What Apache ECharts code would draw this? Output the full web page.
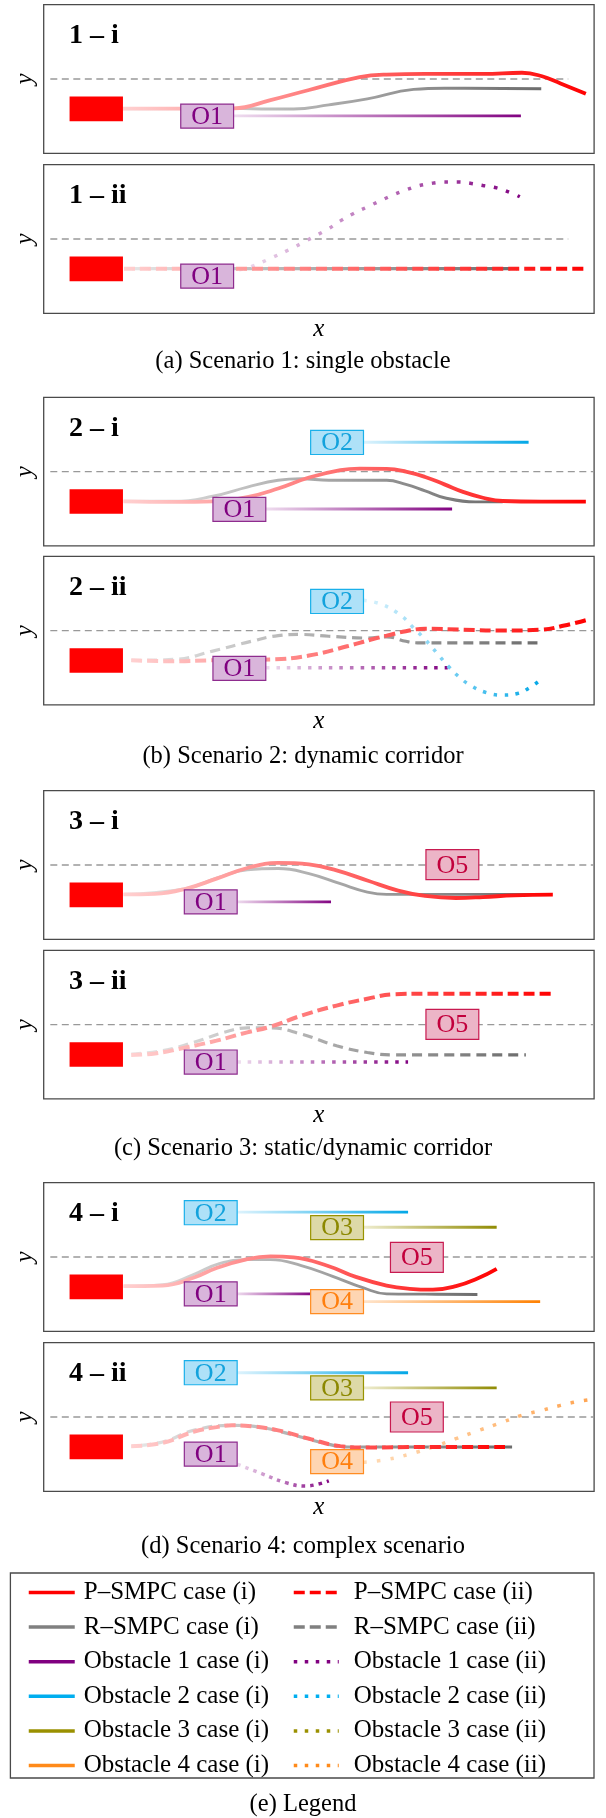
<!DOCTYPE html>
<html><head><meta charset="utf-8">
<script src="https://cdn.jsdelivr.net/npm/echarts@6/dist/echarts.min.js"></script>
<style>html,body{margin:0;padding:0;background:#fff}#c{width:606px;height:1818px}</style>
</head><body><div id="c"></div>
<script>
// ---------------- DATA ----------------
const panelLabels = ['1 – i','1 – ii','2 – i','2 – ii','3 – i','3 – ii','4 – i','4 – ii'];
const captions = ['(a) Scenario 1: single obstacle','(b) Scenario 2: dynamic corridor','(c) Scenario 3: static/dynamic corridor','(d) Scenario 4: complex scenario','(e) Legend'];
const legendCol1 = ['P–SMPC case (i)','R–SMPC case (i)','Obstacle 1 case (i)','Obstacle 2 case (i)','Obstacle 3 case (i)','Obstacle 4 case (i)'];
const legendCol2 = ['P–SMPC case (ii)','R–SMPC case (ii)','Obstacle 1 case (ii)','Obstacle 2 case (ii)','Obstacle 3 case (ii)','Obstacle 4 case (ii)'];

const egoVehicle = [4.7, 14.4, -1.42, -0.59]; // x0, x1, y0, y1
const laneS1 = [[1.2,0],[95.3,0]];
const laneS234 = [[1.2,0],[100,0]];

// Scenario 1
const s1i_psmpc = [[14.4,-1],[24.9,-1],[34.5,-0.99],[41.2,-0.71],[48.2,-0.37],[57.4,0.06],[62.3,0.15],[69.3,0.17],[79.8,0.17],[86.9,0.21],[90.4,0.10],[93.9,-0.15],[98.5,-0.50]];
const s1i_rsmpc = [[14.4,-1],[34.5,-0.99],[41.2,-1.01],[45.4,-1.01],[51.8,-0.87],[58.8,-0.67],[67.2,-0.35],[72.8,-0.31],[90.4,-0.33]];
const s1i_obs1 = [[34.5,-1.24],[86.7,-1.24]];
const s1i_boxes = [['O1',29.7,-1.25]];
const s1ii_psmpc = [[14.6,-1],[98.5,-1]];
const s1ii_rsmpc = [[14.6,-1],[86.0,-1]];
const s1ii_obs1 = [[35.5,-1.04],[37.7,-0.93],[40.5,-0.71],[44.7,-0.35],[46.8,-0.15],[49.3,0.10],[51.8,0.35],[53.9,0.61],[56.3,0.86],[58.8,1.08],[61.2,1.29],[63.7,1.50],[65.8,1.65],[68.3,1.80],[70.7,1.88],[72.8,1.92],[75.3,1.92],[77.7,1.87],[79.8,1.80],[82.3,1.72],[84.8,1.56],[86.5,1.42]];
const s1ii_boxes = [['O1',29.7,-1.25]];

// Scenario 2
const s2i_psmpc = [[14.5,-1.0],[23.7,-1.02],[30.7,-1.0],[37.0,-0.86],[42.6,-0.57],[48.2,-0.20],[53.9,0.05],[57.4,0.10],[62.3,0.09],[65.8,0.0],[69.3,-0.18],[72.8,-0.43],[76.3,-0.69],[79.8,-0.88],[83.4,-0.99],[90.4,-1.01],[98.5,-1.01]];
const s2i_rsmpc = [[14.5,-1.0],[23.7,-1.0],[30.7,-0.83],[37.0,-0.52],[42.6,-0.29],[46.8,-0.24],[51.8,-0.29],[58.8,-0.29],[62.3,-0.29],[65.8,-0.43],[69.3,-0.65],[72.8,-0.88],[78.4,-1.02],[83.4,-1.02]];
const s2i_obs1 = [[40.4,-1.26],[74.2,-1.26]];
const s2i_obs2 = [[58.1,0.99],[88.1,0.99]];
const s2i_boxes = [['O1',35.55,-1.27],['O2',53.3,0.98]];
const s2ii_psmpc = [[15.9,-1.0],[23.7,-1.03],[30.7,-1.0],[41.2,-0.97],[48.2,-0.84],[55.3,-0.52],[59.5,-0.30],[62.3,-0.17],[65.8,-0.02],[69.3,0.06],[76.3,0.03],[83.4,0.0],[90.4,0.03],[94.6,0.17],[98.5,0.35]];
const s2ii_rsmpc = [[15.9,-1.0],[23.7,-0.97],[30.7,-0.69],[37.7,-0.36],[42.6,-0.17],[46.8,-0.13],[51.8,-0.19],[58.8,-0.25],[62.3,-0.21],[65.8,-0.36],[67.9,-0.41],[76.3,-0.41],[90.4,-0.41]];
const s2ii_obs1 = [[40.4,-1.25],[73.4,-1.25]];
const s2ii_obs2 = [[58.1,1.02],[61.6,0.87],[65.1,0.48],[67.2,0.09],[69.3,-0.30],[71.4,-0.75],[73.5,-1.20],[75.6,-1.58],[77.7,-1.86],[80.5,-2.09],[83.4,-2.17],[86.2,-2.11],[88.3,-1.92],[90.4,-1.64]];
const s2ii_boxes = [['O1',35.55,-1.27],['O2',53.3,0.98]];

// Scenario 3
const s3i_psmpc = [[14.5,-0.99],[20.2,-0.97],[25.8,-0.80],[31.4,-0.46],[37.0,-0.10],[42.6,0.07],[48.2,0.02],[53.2,-0.18],[58.8,-0.52],[64.4,-0.86],[69.3,-1.04],[74.9,-1.11],[79.8,-1.08],[85.5,-1.02],[92.5,-1.0]];
const s3i_rsmpc = [[14.5,-0.99],[25.8,-0.80],[31.4,-0.44],[37.0,-0.16],[42.6,-0.12],[48.2,-0.29],[53.9,-0.63],[58.8,-0.91],[62.3,-0.99],[69.3,-0.99],[79.8,-0.99],[89.0,-0.99]];
const s3i_obs1 = [[35.2,-1.24],[52.2,-1.24]];
const s3i_boxes = [['O1',30.35,-1.24],['O5',74.25,0.01]];
const s3ii_psmpc = [[15.9,-1.02],[20.2,-0.97],[25.8,-0.77],[31.4,-0.54],[37.0,-0.26],[41.2,-0.07],[46.8,0.30],[53.2,0.64],[58.8,0.87],[63.7,1.02],[69.3,1.04],[92.5,1.04]];
const s3ii_rsmpc = [[15.9,-0.99],[21.6,-0.88],[27.2,-0.60],[32.8,-0.26],[37.0,-0.11],[41.2,-0.11],[46.8,-0.32],[53.2,-0.71],[58.8,-0.94],[63.7,-1.02],[87.6,-1.02]];
const s3ii_obs1 = [[35.2,-1.26],[66.2,-1.26]];
const s3ii_boxes = [['O1',30.35,-1.26],['O5',74.25,0.01]];

// Scenario 4
const s4i_psmpc = [[14.5,-0.98],[21.6,-0.96],[27.2,-0.70],[31.4,-0.37],[37.0,-0.07],[41.2,0.02],[45.4,-0.01],[51.8,-0.31],[56.7,-0.67],[62.3,-0.96],[66.5,-1.07],[70.7,-1.10],[74.9,-0.98],[79.1,-0.70],[82.3,-0.40]];
const s4i_rsmpc = [[14.5,-0.98],[21.6,-0.93],[27.2,-0.59],[31.9,-0.22],[37.0,-0.09],[41.2,-0.09],[46.8,-0.29],[52.5,-0.65],[58.1,-1.04],[62.3,-1.24],[69.3,-1.25],[78.8,-1.26]];
const s4i_obs1 = [[35.2,-1.24],[48.5,-1.24]];
const s4i_obs2 = [[35.2,1.51],[66.2,1.51]];
const s4i_obs3 = [[58.1,1.0],[82.3,1.0]];
const s4i_obs4 = [[58.1,-1.50],[90.2,-1.50]];
const s4i_boxes = [['O2',30.35,1.49],['O3',53.3,0.99],['O5',67.8,-0.01],['O1',30.35,-1.24],['O4',53.3,-1.50]];
const s4ii_psmpc = [[15.9,-0.98],[21.6,-0.87],[27.2,-0.50],[31.4,-0.34],[34.2,-0.28],[37.7,-0.31],[42.6,-0.45],[48.2,-0.73],[53.9,-0.98],[58.8,-1.03],[69.3,-1.01],[84.1,-1.01]];
const s4ii_rsmpc = [[15.9,-0.98],[21.6,-0.84],[27.2,-0.45],[34.2,-0.28],[39.8,-0.36],[45.4,-0.61],[51.8,-0.92],[55.3,-1.01],[62.3,-1.01],[85.1,-1.01]];
const s4ii_obs1 = [[35.2,-1.59],[39.8,-1.92],[44.0,-2.21],[47.5,-2.32],[49.6,-2.27],[51.8,-2.15]];
const s4ii_obs2 = [[35.2,1.49],[66.2,1.49]];
const s4ii_obs3 = [[58.1,0.98],[82.3,0.98]];
const s4ii_obs4 = [[58.1,-1.52],[62.3,-1.43],[66.5,-1.25],[70.7,-1.01],[74.9,-0.73],[79.1,-0.45],[83.4,-0.17],[86.9,0.06],[90.4,0.22],[93.9,0.39],[97.4,0.53],[101,0.62]];
const s4ii_boxes = [['O2',30.35,1.49],['O3',53.3,0.98],['O5',67.8,0],['O1',30.35,-1.25],['O4',53.3,-1.50]];

// ---------------- LAYOUT / STYLE ----------------
const FONT = '"Liberation Serif", "Times New Roman", serif';
const PANEL_TOPS = [4.7,164.7,397.3,556.3,790.7,950.3,1182.7,1342.7];
const PANEL_H = 148.6, PANEL_L = 43.7, PANEL_W = 550.4;
const CAPTION_Y = [362, 757, 1149, 1547, 1805];
const BOX_W = 9.6, BOX_H = 0.81, BOX_H5 = 1.01;

const LINE_COL = {P:['#ffd2d2','#ff0000'], R:['#e8e8e8','#6c6c6c'], O1:['#f0dff0','#800080'], O2:['#e0f4fd','#00a6e6'], O3:['#f0eed2','#8f8a00'], O4:['#ffe6cf','#ff8000'], O4L:['#ffdcb8','#ffa24d']};
const BOX_STYLE = {
  O1:{fill:'#d9b5db', stroke:'#8e2c8e', text:'#800080'},
  O2:{fill:'#aee1f8', stroke:'#1ab0ea', text:'#13a2dc'},
  O3:{fill:'#ddd9a7', stroke:'#999300', text:'#8c8800'},
  O4:{fill:'#fed5b2', stroke:'#ff8c22', text:'#ff7f0e'},
  O5:{fill:'#ecb5c7', stroke:'#c81a50', text:'#c2003c'}
};

const panels = [
  {lane:laneS1, lines:[['R','solid',s1i_rsmpc],['P','solid',s1i_psmpc],['O1','solid',s1i_obs1]], boxes:s1i_boxes},
  {lane:laneS1, lines:[['P','dash',s1ii_psmpc],['R','dash',s1ii_rsmpc,{offset:8}],['O1','dot',s1ii_obs1,{dash:[3.5,9]}]], boxes:s1ii_boxes},
  {lane:laneS234, lines:[['R','solid',s2i_rsmpc],['P','solid',s2i_psmpc],['O1','solid',s2i_obs1],['O2','solid',s2i_obs2]], boxes:s2i_boxes},
  {lane:laneS234, lines:[['R','dash',s2ii_rsmpc],['P','dash',s2ii_psmpc],['O1','dot',s2ii_obs1],['O2','dot',s2ii_obs2,{dash:[3.5,7.5]}]], boxes:s2ii_boxes},
  {lane:laneS234, lines:[['R','solid',s3i_rsmpc],['P','solid',s3i_psmpc],['O1','solid',s3i_obs1]], boxes:s3i_boxes},
  {lane:laneS234, lines:[['R','dash',s3ii_rsmpc],['P','dash',s3ii_psmpc],['O1','dot',s3ii_obs1]], boxes:s3ii_boxes},
  {lane:laneS234, lines:[['R','solid',s4i_rsmpc],['P','solid',s4i_psmpc],['O1','solid',s4i_obs1],['O2','solid',s4i_obs2],['O3','solid',s4i_obs3],['O4','solid',s4i_obs4]], boxes:s4i_boxes},
  {lane:laneS234, lines:[['P','dash',s4ii_psmpc],['R','dash',s4ii_rsmpc,{offset:6}],['O1','dot',s4ii_obs1,{dash:[3.5,5]}],['O2','solid',s4ii_obs2],['O3','solid',s4ii_obs3],['O4L','dot',s4ii_obs4,{dash:[3.5,10],clip:false}]], boxes:s4ii_boxes}
];

function grad(c){ return new echarts.graphic.LinearGradient(0,0,1,0,[{offset:0,color:c[0]},{offset:1,color:c[1]}]); }

const chart = echarts.init(document.getElementById('c'), null, {renderer:'canvas', width:606, height:1818});
const grid = [], xAxis = [], yAxis = [], series = [], graphic = [];
const axisName = {fontFamily:FONT, fontStyle:'italic', fontSize:25, color:'#000'};

panels.forEach((p, i) => {
  const isII = i % 2 === 1;
  grid.push({left:PANEL_L, top:PANEL_TOPS[i], width:PANEL_W, height:PANEL_H, show:true, borderColor:'#4a4a4a', borderWidth:1.3, backgroundColor:'transparent', containLabel:false, outerBoundsMode:'none'});
  xAxis.push({gridIndex:i, type:'value', min:0, max:100, axisLine:{show:false}, axisTick:{show:false}, axisLabel:{show:false}, splitLine:{show:false},
    name: isII ? 'x' : '', nameLocation:'middle', nameGap:4, nameMoveOverlap:false, nameTextStyle:axisName});
  yAxis.push({gridIndex:i, type:'value', min:-2.5, max:2.5, axisLine:{show:false}, axisTick:{show:false}, axisLabel:{show:false}, splitLine:{show:false},
    name:'y', nameLocation:'middle', nameGap:6, nameRotate:90, nameMoveOverlap:false, nameTextStyle:axisName});
  // lane centre line
  series.push({type:'line', name:'lane '+i, xAxisIndex:i, yAxisIndex:i, data:p.lane, symbol:'none', silent:true, z:1,
    lineStyle:{color:'#999999', width:1.3, type:[7,4.5]}});
  // trajectories
  p.lines.forEach((ln, k) => {
    const [kind, style, data, opt] = ln; const o = opt || {};
    let width, type;
    if (style === 'solid') { width = kind === 'P' ? 3.8 : 2.9; type = 'solid'; }
    else if (style === 'dash') { width = kind === 'P' ? 4 : 3.2; type = kind === 'P' ? [11,5] : [10,6]; }
    else { width = 3.5; type = o.dash || [3.5,7]; }
    series.push({type:'line', name:panelLabels[i]+' '+kind+' '+k, xAxisIndex:i, yAxisIndex:i, data:data, symbol:'none', smooth:0.45, silent:true,
      clip: o.clip === false ? false : true, z: kind === 'P' ? 3 : 2,
      lineStyle:{color:grad(LINE_COL[kind]), width:width, type:type, dashOffset:o.offset || 0, cap:'butt'}});
  });
  // ego vehicle
  series.push({type:'custom', name:'ego '+i, xAxisIndex:i, yAxisIndex:i, z:6, silent:true, data:[egoVehicle],
    renderItem:(params, api) => {
      const a = api.coord([api.value(0), api.value(3)]); const b = api.coord([api.value(1), api.value(2)]);
      return {type:'rect', shape:{x:a[0], y:a[1], width:b[0]-a[0], height:b[1]-a[1]}, style:{fill:'#ff0000'}};
    }});
  // obstacle boxes
  const boxes = p.boxes;
  series.push({type:'custom', name:'boxes '+i, xAxisIndex:i, yAxisIndex:i, z:7, silent:true,
    data: boxes.map(b => [b[1], b[2]]),
    renderItem:(params, api) => {
      const nm = boxes[params.dataIndex][0]; const st = BOX_STYLE[nm];
      const cx = api.value(0), cy = api.value(1); const h = nm === 'O5' ? BOX_H5 : BOX_H;
      const a = api.coord([cx - BOX_W/2, cy + h/2]); const b = api.coord([cx + BOX_W/2, cy - h/2]);
      return {type:'group', children:[
        {type:'rect', shape:{x:a[0], y:a[1], width:b[0]-a[0], height:b[1]-a[1]}, style:{fill:st.fill, stroke:st.stroke, lineWidth:1.2}},
        {type:'text', style:{text:nm, x:(a[0]+b[0])/2, y:(a[1]+b[1])/2 + 1, align:'center', verticalAlign:'middle', font:'26px '+FONT, fill:st.text}}
      ]};
    }});
  // panel label
  graphic.push({type:'text', left:69, top:PANEL_TOPS[i] + 17, silent:true,
    style:{text:panelLabels[i], font:'bold 28px '+FONT, fill:'#000'}});
});

captions.forEach((c, j) => {
  graphic.push({type:'text', silent:true, x:303, y:CAPTION_Y[j], style:{text:c, x:0, y:0, align:'center', verticalAlign:'middle', font:'24.5px '+FONT, fill:'#000'}});
});
// legend frame
graphic.push({type:'rect', silent:true, shape:{x:10.4, y:1573, width:583.6, height:205}, style:{fill:'none', stroke:'#4a4a4a', lineWidth:1.3}});

// legend entries (sample lines)
const LEG_SOLID = ['#ff0000','#808080','#800080','#00aeef','#9a9000','#ff8a1a'];
legendCol1.forEach((n, j) => series.push({type:'line', name:n, xAxisIndex:0, yAxisIndex:0, data:[], symbol:'none', lineStyle:{color:LEG_SOLID[j], width:3.5, type:'solid'}}));
legendCol2.forEach((n, j) => series.push({type:'line', name:n, xAxisIndex:0, yAxisIndex:0, data:[], symbol:'none',
  lineStyle:{color:LEG_SOLID[j], width:3.5, type: j < 2 ? [11,5] : [3.5,7.5]}}));

const legendCommon = {orient:'vertical', top:1580, itemWidth:46, itemHeight:24, itemGap:9.6, padding:0, selectedMode:false,
  lineStyle:{width:3.5}, itemStyle:{color:'rgba(0,0,0,0)', borderWidth:0, opacity:0},
  textStyle:{fontFamily:FONT, fontSize:25, color:'#000', lineHeight:24}};

chart.setOption({
  backgroundColor:'#ffffff',
  animation:false,
  grid, xAxis, yAxis, series, graphic,
  legend:[
    Object.assign({}, legendCommon, {left:27, data:legendCol1, textStyle:Object.assign({}, legendCommon.textStyle, {padding:[0,0,0,4]})}),
    Object.assign({}, legendCommon, {left:292, itemWidth:45, data:legendCol2, textStyle:Object.assign({}, legendCommon.textStyle, {padding:[0,0,0,10]})})
  ]
});
</script></body></html>
